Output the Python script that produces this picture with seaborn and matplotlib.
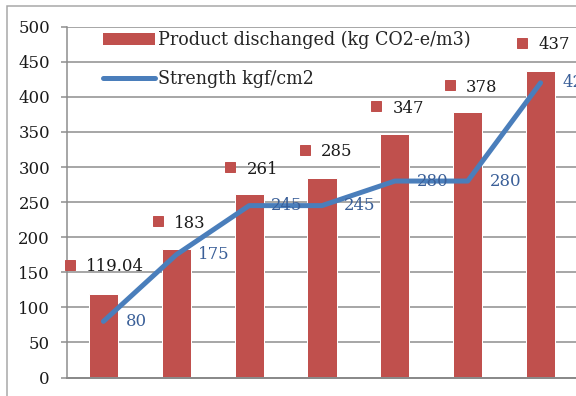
import numpy as np
import pandas as pd
import matplotlib
matplotlib.use("Agg")
import matplotlib.pyplot as plt
import matplotlib.patches as mpatches
import matplotlib.transforms as mtransforms
from matplotlib.lines import Line2D
import seaborn as sns

# Data
categories = ["1", "2", "3", "4", "5", "6", "7"]
product_discharged = [119.04, 183, 261, 285, 347, 378, 437]
strength = [80, 175, 245, 245, 280, 280, 420]
product_labels = ["119.04", "183", "261", "285", "347", "378", "437"]
strength_labels = ["80", "175", "245", "245", "280", "280", "420"]
yticks = [0, 50, 100, 150, 200, 250, 300, 350, 400, 450, 500]
series_names = ["Product dischanged (kg CO2-e/m3)", "Strength kgf/cm2"]

# Label offsets in pixels (text left edge relative to bar centre, height above bar top)
bar_label_dx = [-17, -2, -2.5, -1, -2, -1.5, -2.5]
bar_label_dy = [27, 26, 25, 26, 26, 25, 26]
line_label_dx = 22

BAR_RED = "#C0504D"
LINE_BLUE = "#4A7EBB"
LABEL_BLUE = "#3A5F98"
GRID_GRAY = "#8C8C8C"

sns.set_theme(style="white")
plt.rcParams["font.family"] = ["DejaVu Serif", "DejaVu Sans"]
FS = 16.5
LEGEND_FS = 17.5

fig = plt.figure(figsize=(8, 5.5), dpi=72)
W, H = 576, 396
ax = fig.add_axes([67 / W, (H - 377.5) / H, (577 - 67) / W, (377.5 - 26.7) / H])

df = pd.DataFrame({"cat": categories, "product": product_discharged, "strength": strength})

sns.barplot(data=df, x="cat", y="product", color=BAR_RED, saturation=1,
            width=0.4, ax=ax, zorder=2)
sns.lineplot(x=np.arange(len(categories)), y=df["strength"], color=LINE_BLUE,
             linewidth=5, ax=ax, zorder=3, solid_capstyle="round",
             solid_joinstyle="round")

ax.set_xlim(-0.5, len(categories) - 0.5)
ax.set_ylim(0, 500)
ax.set_yticks(yticks)
ax.set_yticklabels([str(t) for t in yticks], fontsize=FS, color="#1a1a1a")
ax.set_xticks([])
ax.set_xlabel("")
ax.set_ylabel("")
ax.yaxis.grid(True, color=GRID_GRAY, linewidth=1.5, zorder=0)
ax.set_axisbelow(True)
ax.tick_params(axis="y", length=6, width=1.5, color=GRID_GRAY, pad=11, left=True)
for side in ["top", "right"]:
    ax.spines[side].set_visible(False)
ax.spines["left"].set_color(GRID_GRAY)
ax.spines["left"].set_linewidth(1.5)
ax.spines["bottom"].set_color("#8A8A8A")
ax.spines["bottom"].set_linewidth(2)

# Bar value labels with a small legend-key square
for i, (v, lab) in enumerate(zip(product_discharged, product_labels)):
    dx, dy = bar_label_dx[i], bar_label_dy[i]
    ax.annotate(lab, xy=(i, v), xytext=(dx, dy), textcoords="offset pixels",
                ha="left", va="center", fontsize=FS, color="#1a1a1a",
                annotation_clip=False, zorder=5)
    sq = mtransforms.offset_copy(ax.transData, fig=fig, x=dx - 16.5, y=dy + 2,
                                 units="dots")
    ax.plot([i], [v], marker="s", markersize=9.5, color=BAR_RED,
            linestyle="none", transform=sq, clip_on=False, zorder=5)

# Line value labels
for i, (v, lab) in enumerate(zip(strength, strength_labels)):
    ax.annotate(lab, xy=(i, v), xytext=(line_label_dx, 0), textcoords="offset pixels",
                ha="left", va="center", fontsize=FS, color=LABEL_BLUE,
                annotation_clip=False, zorder=5)

# Legend
handles = [
    mpatches.Patch(facecolor=BAR_RED, edgecolor="none"),
    Line2D([0], [0], color=LINE_BLUE, linewidth=5, solid_capstyle="round"),
]
ax.legend(handles, series_names, loc="upper left", frameon=False,
          bbox_to_anchor=(103 / W, 1 - 31 / H), bbox_transform=fig.transFigure,
          fontsize=LEGEND_FS, handlelength=2.95, handleheight=0.62, handletextpad=0.22,
          labelspacing=1.2, borderpad=0, borderaxespad=0)

# Outer chart border
fig.patches.append(mpatches.Rectangle((6.5 / W, -0.1), 1.2, (H - 6) / H + 0.1,
                                      transform=fig.transFigure, fill=False,
                                      edgecolor="#A6A6A6", linewidth=1.5))

fig.savefig("out.png", dpi=72, facecolor="white")
